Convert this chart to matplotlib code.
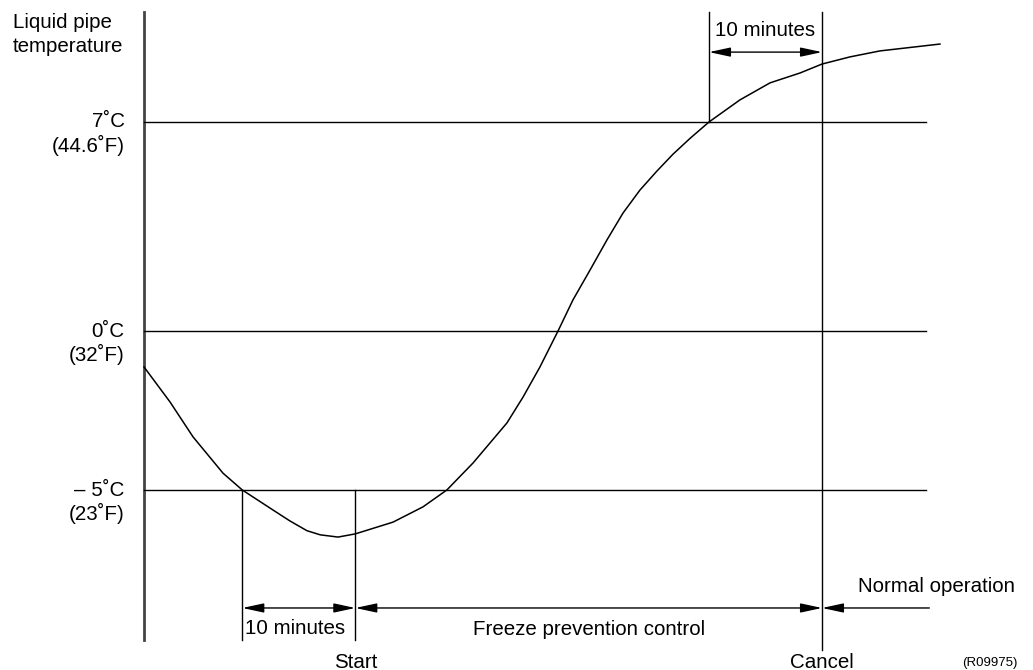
import numpy as np
import matplotlib
matplotlib.use("Agg")
import matplotlib.pyplot as plt

plt.rcParams['font.family'] = ['Liberation Sans', 'DejaVu Sans']

# liquid pipe temperature curve (time in minutes, temperature in degC)
time_min = [0.0, 2.30, 4.34, 6.99, 8.7, 11.42, 12.9, 14.42, 15.6, 17.17, 18.7,
            22.04, 24.69, 26.8, 29.12, 32.12, 33.54, 35.04, 36.64, 37.96,
            39.47, 40.97, 42.39, 43.89, 45.4, 46.81, 48.32, 50.0, 52.74, 55.4,
            58.05, 60.0, 62.48, 65.13, 70.44]
temp_c = [-1.13, -2.23, -3.33, -4.47, -5.0, -5.63, -5.97, -6.28, -6.41, -6.48,
          -6.38, -6.01, -5.53, -5.0, -4.15, -2.89, -2.08, -1.13, 0.0, 1.04,
          2.04, 3.05, 3.95, 4.72, 5.36, 5.92, 6.45, 7.0, 7.74, 8.31,
          8.64, 8.94, 9.18, 9.38, 9.61]

thresholds = [7, 0, -5]
labels_c = ["7˚C", "0˚C", "– 5˚C"]
labels_f = ["(44.6˚F)", "(32˚F)", "(23˚F)"]

t_below = 8.7      # temp falls below -5 degC
t_start = t_below + 10
t_rise = 50.0      # temp rises above 7 degC
t_cancel = t_rise + 10


# the drawing's temperature axis is not quite linear
def fwd(T):
    T = np.asarray(T, dtype=float)
    return np.where(T < 0, T * 31.8, T * 29.86)


def inv(y):
    y = np.asarray(y, dtype=float)
    return np.where(y < 0, y / 31.8, y / 29.86)


fig = plt.figure(figsize=(10.33, 6.70), dpi=100)
ax = fig.add_axes([0, 0, 1, 1])
ax.set_yscale('function', functions=(fwd, inv))
ax.set_xlim(-144 / 11.3, (1033 - 144) / 11.3)
ax.set_ylim(-339 / 31.8, 331 / 29.86)
ax.axis('off')

y_top = 10.68
y_bot = -9.72
fs = 14.8

# y axis
ax.plot([0, 0], [y_bot, y_top], color='#444444', lw=2)

# threshold lines and labels
for T, lc, lf in zip(thresholds, labels_c, labels_f):
    ax.plot([0, 69.2], [T, T], color='k', lw=1)
    ax.text(-1.7, T, lc, ha='right', va='center', fontsize=fs)
    ax.annotate(lf, xy=(-1.7, T), xytext=(0, -17), textcoords='offset points',
                ha='right', va='center', fontsize=fs)

ax.annotate("Liquid pipe", xy=(13 / 1033, 1 - 28 / 670),
            xycoords='axes fraction', ha='left', va='baseline', fontsize=fs)
ax.annotate("temperature", xy=(13 / 1033, 1 - 52 / 670),
            xycoords='axes fraction', ha='left', va='baseline', fontsize=fs)

# curve
ax.plot(time_min, temp_c, color='k', lw=1.1, solid_joinstyle='round')

# vertical markers
ax.plot([t_below, t_below], [-5, y_bot], color='k', lw=1)
ax.plot([t_start, t_start], [-5, y_bot], color='k', lw=1)
ax.plot([t_rise, t_rise], [7, y_top], color='k', lw=1)
ax.plot([t_cancel, t_cancel], [y_top, -10.03], color='k', lw=1)

arrow = dict(arrowstyle='<|-|>,head_length=1.3,head_width=0.28',
             color='k', lw=1, shrinkA=0, shrinkB=0)
one_way = dict(arrowstyle='-|>,head_length=1.3,head_width=0.28',
               color='k', lw=1, shrinkA=0, shrinkB=0)

y_arr = -8.71
ax.annotate('', xy=(t_start, y_arr), xytext=(t_below, y_arr), arrowprops=arrow)
ax.annotate('', xy=(t_cancel, y_arr), xytext=(t_start, y_arr), arrowprops=arrow)
ax.annotate('', xy=(t_cancel, y_arr), xytext=(69.5, y_arr), arrowprops=one_way)
y_arr_top = 9.34
ax.annotate('', xy=(t_cancel, y_arr_top), xytext=(t_rise, y_arr_top),
            arrowprops=arrow)

# texts
ax.text(t_below + 0.2, -9.36, "10 minutes", ha='left', va='center', fontsize=fs)
ax.text((t_start + t_cancel) / 2, -9.4, "Freeze prevention control",
        ha='center', va='center', fontsize=fs)
ax.text(t_start, -10.41, "Start", ha='center', va='center', fontsize=fs)
ax.text(t_cancel, -10.41, "Cancel", ha='center', va='center', fontsize=fs)
ax.text(63.2, -8.05, "Normal operation", ha='left', va='center', fontsize=fs)
ax.text(t_rise + 0.5, 10.08, "10 minutes", ha='left', va='center', fontsize=fs)
ax.annotate("(R09975)", xy=(962 / 1033, 1 / 670), xycoords='axes fraction',
            ha='left', va='bottom', fontsize=9.5)

fig.savefig("out.png", dpi=100)
